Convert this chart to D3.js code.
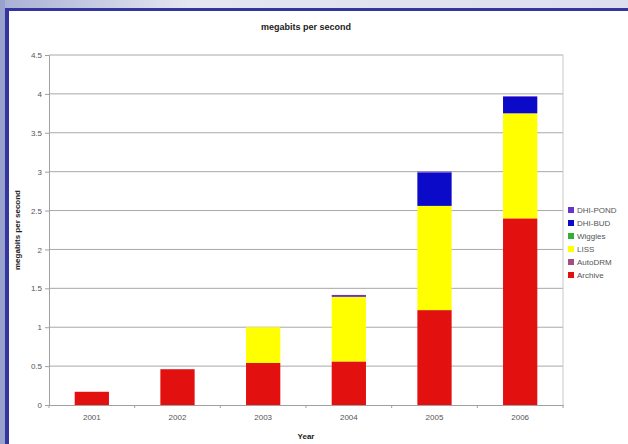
<!DOCTYPE html>
<html><head><meta charset="utf-8">
<script src="https://cdn.jsdelivr.net/npm/d3@7"></script>
<style>body{margin:0;background:#fff}svg{display:block}</style>
</head><body><svg id="c" width="628" height="444"></svg>
<script>
const years = ["2001","2002","2003","2004","2005","2006"];
const seriesNames = ["Archive","AutoDRM","LISS","Wiggles","DHI-BUD","DHI-POND"];
const archive  = [0.17, 0.46, 0.54, 0.56, 1.22, 2.40];
const autodrm  = [0, 0, 0, 0, 0, 0];
const liss     = [0, 0, 0.46, 0.83, 1.34, 1.35];
const wiggles  = [0, 0, 0, 0, 0, 0];
const dhiBud   = [0, 0, 0, 0, 0.43, 0.21];
const dhiPond  = [0, 0, 0, 0.025, 0.01, 0.01];
const colors = ["#e31010","#a05080","#ffff00","#33b033","#0a0ac8","#6633cc"];
const yTicks = [0,0.5,1,1.5,2,2.5,3,3.5,4,4.5];

const seriesVals = [archive, autodrm, liss, wiggles, dhiBud, dhiPond];
const rows = years.map((y,i)=>{const r={year:y}; seriesNames.forEach((s,j)=>r[s]=seriesVals[j][i]); return r;});

const svg = d3.select("#c");
// slide frame
const defs = svg.append("defs");
const g1 = defs.append("linearGradient").attr("id","topg").attr("x1",0).attr("x2",1);
g1.append("stop").attr("offset",0).attr("stop-color","#a8b0d4");
g1.append("stop").attr("offset",0.3).attr("stop-color","#e4e6f0");
g1.append("stop").attr("offset",1).attr("stop-color","#dcdfee");
svg.append("rect").attr("x",0).attr("y",0).attr("width",628).attr("height",8).attr("fill","url(#topg)");
svg.append("rect").attr("x",0).attr("y",0).attr("width",5).attr("height",444).attr("fill","#98a2cc");
svg.append("rect").attr("x",5).attr("y",8).attr("width",623).attr("height",3).attr("fill","#3535a0");
svg.append("rect").attr("x",5).attr("y",8).attr("width",4).attr("height",436).attr("fill","#3535a0");

const L=49, R=563, T=55, B=405;
const x = d3.scaleBand().domain(years).range([L,R]).paddingInner(0.6).paddingOuter(0.3);
const y = d3.scaleLinear().domain([0,4.5]).range([B,T]);

// gridlines
svg.append("g").selectAll("line").data(yTicks.filter(d=>d>0)).join("line")
  .attr("x1",L).attr("x2",R).attr("y1",d=>y(d)).attr("y2",d=>y(d))
  .attr("stroke","#a8a8a8").attr("stroke-width",1);
svg.append("line").attr("x1",R).attr("x2",R).attr("y1",T).attr("y2",B).attr("stroke","#c8c8c8");

// bars
const stack = d3.stack().keys(seriesNames)(rows);
svg.append("g").selectAll("g").data(stack).join("g")
  .attr("fill",(d,i)=>colors[i])
  .selectAll("rect").data(d=>d).join("rect")
  .attr("x",d=>x(d.data.year)).attr("width",x.bandwidth())
  .attr("y",d=>y(d[1])).attr("height",d=>Math.max(0,y(d[0])-y(d[1])));

// axes
const yAxis = d3.axisLeft(y).tickValues(yTicks).tickFormat(d=>String(d)).tickSize(4).tickPadding(3);
const ya = svg.append("g").attr("transform",`translate(${L},0)`).call(yAxis);
ya.select(".domain").attr("stroke","#a0a0a0");
ya.selectAll(".tick line").attr("stroke","#a0a0a0");
ya.selectAll("text").attr("fill","#555").style("font","8px 'Liberation Sans', Arial, sans-serif");

const xAxis = d3.axisBottom(x).tickSize(0).tickPadding(9);
const xa = svg.append("g").attr("transform",`translate(0,${B})`).call(xAxis);
xa.select(".domain").attr("stroke","#a0a0a0");
xa.selectAll("text").attr("fill","#555").style("font","8px 'Liberation Sans', Arial, sans-serif");
// category separator ticks
const step = x.step();
svg.append("g").selectAll("line").data(d3.range(years.length+1)).join("line")
  .attr("x1",d=>L+d*step*(R-L)/(step*years.length)).attr("x2",d=>L+d*(R-L)/years.length)
  .attr("y1",B).attr("y2",B+3).attr("stroke","#a0a0a0");

// titles
svg.append("text").attr("x",306).attr("y",30).attr("text-anchor","middle")
  .style("font","bold 9px 'Liberation Sans', Arial, sans-serif").attr("fill","#222").text("megabits per second");
svg.append("text").attr("x",306).attr("y",439).attr("text-anchor","middle")
  .style("font","bold 8px 'Liberation Sans', Arial, sans-serif").attr("fill","#222").text("Year");
svg.append("text").attr("transform",`translate(20,${(T+B)/2}) rotate(-90)`).attr("text-anchor","middle")
  .style("font","bold 8px 'Liberation Sans', Arial, sans-serif").attr("fill","#222").text("megabits per second");

// legend
const legendItems = seriesNames.map((n,i)=>({n,c:colors[i]})).reverse();
const lg = svg.append("g").selectAll("g").data(legendItems).join("g")
  .attr("transform",(d,i)=>`translate(568,${207+i*13})`);
lg.append("rect").attr("width",6).attr("height",6).attr("fill",d=>d.c);
lg.append("text").attr("x",9).attr("y",6).attr("fill","#555")
  .style("font","8px 'Liberation Sans', Arial, sans-serif").text(d=>d.n);
</script></body></html>
